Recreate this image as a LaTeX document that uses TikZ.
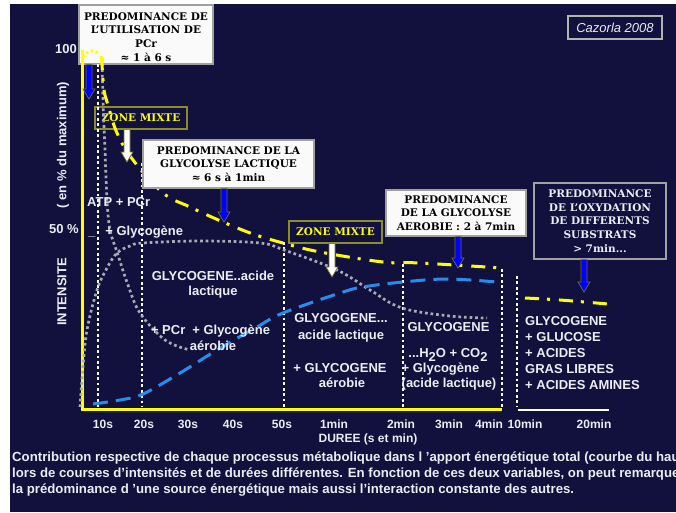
\documentclass[tikz,border=0pt]{standalone}
\usepackage{fontspec}
\setmainfont{Liberation Sans}
\newfontfamily\slab{DejaVu Serif}
\usetikzlibrary{calc}
\definecolor{navy}{RGB}{18,17,62}
\definecolor{yel}{RGB}{255,255,0}
\definecolor{boxgrey}{RGB}{160,160,160}
\definecolor{boxwhite}{RGB}{250,250,250}
\definecolor{olivebd}{RGB}{140,140,40}
\definecolor{arrblue}{RGB}{0,0,255}
\definecolor{dotgrey}{RGB}{170,170,180}
\definecolor{dashblue}{RGB}{40,140,235}
\definecolor{txtwhite}{RGB}{236,236,244}
\definecolor{arrline}{RGB}{110,110,40}
\newcommand{\blkarrow}[3][]{%
  \path[#1] let \p1=(#2), \p2=(#3) in
    (\x1-3pt,\y1) -- (\x1+3pt,\y1) -- (\x1+3pt,\y2+10pt) -- (\x1+6pt,\y2+10pt)
    -- (\x1,\y2) -- (\x1-6pt,\y2+10pt) -- (\x1-3pt,\y2+10pt) -- cycle;}
\begin{document}
\begin{tikzpicture}[x=1pt,y=-1pt,
  lbl/.style={text=txtwhite, font=\bfseries\fontsize{13}{15}\selectfont, inner sep=0pt, anchor=base},
  xlbl/.style={text=txtwhite, font=\bfseries\fontsize{12}{14}\selectfont, inner sep=0pt, anchor=base},
  caption/.style={text=txtwhite, font=\bfseries\fontsize{13.2}{15}\selectfont, inner sep=0pt, anchor=base west},
  wbox/.style={draw=boxgrey, line width=1.2pt, fill=boxwhite, text=black,
    font=\slab\bfseries\fontsize{10.5}{13.7}\selectfont, align=center, inner sep=0pt},
  boxtxt/.style={text=black, font=\slab\bfseries\fontsize{10.5}{13.8}\selectfont, align=center, inner sep=0pt},
  nbox/.style={draw=boxgrey, line width=1.2pt, fill=navy, text=txtwhite,
    font=\slab\bfseries\fontsize{10.5}{13.7}\selectfont, align=center, inner sep=0pt},
  zbox/.style={draw=olivebd, line width=1.2pt, fill=navy, text=yel,
    font=\slab\bfseries\fontsize{10.5}{13}\selectfont, inner sep=0pt},
  vgrid/.style={draw=white, line width=2.7pt, dash pattern=on 2.7pt off 2.7pt},
  gcurve/.style={draw=dotgrey, line width=2.7pt, dash pattern=on 2.7pt off 2.9pt},
  bcurve/.style={draw=dashblue, line width=3pt, dash pattern=on 15pt off 8pt},
  ycurve/.style={draw=yel, line width=3pt, dash pattern=on 14pt off 8pt on 3pt off 9pt},
  blue arrow/.style={fill=arrblue, draw=arrline, line width=0.7pt},
  white arrow/.style={fill=white, draw=arrline, line width=0.7pt}
]
\useasboundingbox (0,0) rectangle (676,512);
\clip (0,0) rectangle (676,512);
\fill[white] (0,0) rectangle (676,512);
\fill[navy] (10,4) rectangle (676,512);

% ZONE MIXTE boxes (below the lines)
\node[zbox, minimum width=92pt, minimum height=22pt] (zm1) at (141,118) {ZONE MIXTE};
\node[zbox, minimum width=93pt, minimum height=22pt] (zm2) at (335.5,232) {ZONE MIXTE};

% first box (below the curves)
\node[wbox, minimum width=134pt, minimum height=59pt] (b1) at (146,34.5) {};
\node[boxtxt] (b1t) at (146,37) {PREDOMINANCE DE\\L’UTILISATION DE\\PCr\\≈ 1 à 6 s};

% axes
\draw[yel, line width=3pt] (82,50) -- (82,409) -- (502,409);
\draw[white, line width=2.7pt] (518,410) -- (609,410);

% vertical dotted grid lines
\draw[vgrid] (98,64) -- (98,407);
\draw[vgrid] (142,163) -- (142,407);
\draw[vgrid] (284,242) -- (284,407);
\draw[vgrid] (403,264) -- (403,407);
\draw[vgrid] (502,269) -- (502,407);
\draw[vgrid] (517,276) -- (517,407);

% grey dotted curves
\draw[gcurve] plot[smooth, tension=0.6] coordinates {(102,58) (103,100) (105,150) (107,200) (110,230) (117,252) (128,285) (140,313) (165,340) (190,350)};
\draw[gcurve] plot[smooth, tension=0.6] coordinates {(80,407) (83,367) (87,330) (97,290) (107,268) (117,253) (130,246) (143,243) (200,241) (260,243) (284,250) (337,270) (370,290) (402,308) (450,316) (487,318)};

% blue dashed curve
\draw[bcurve] plot[smooth, tension=0.6] coordinates {(93,404) (120,400) (143,394) (180,373) (217,350) (257,327) (283,313) (340,293) (363,287) (403,282) (447,279) (497,282)};

% yellow total curve
\draw[yel, line width=2.7pt, dash pattern=on 2.5pt off 2.5pt] plot[smooth, tension=0.7] coordinates {(83,57) (88,52) (94,51) (100,54)};
\draw[ycurve] plot[smooth, tension=0.6] coordinates {(101,56) (102,65) (104,90) (108,105) (117,133) (133,160) (163,193) (190,207) (223,222) (253,234) (283,243) (320,252) (383,262) (420,263) (502,268)};
\draw[ycurve] plot[smooth, tension=0.6] coordinates {(525,298) (560,300) (608,304)};

% upper boxes
\node[wbox, minimum width=171pt, minimum height=48pt] (b3) at (228.5,164)
  {PREDOMINANCE DE LA\\GLYCOLYSE LACTIQUE\\≈ 6 s à 1min};
\node[wbox, minimum width=140pt, minimum height=46pt] (b6) at (456,213)
  {PREDOMINANCE\\DE LA GLYCOLYSE\\AEROBIE : 2 à 7min};
\node[nbox, minimum width=132pt, minimum height=76pt] (b7) at (600,221)
  {PREDOMINANCE\\DE L’OXYDATION\\DE DIFFERENTS\\SUBSTRATS\\> 7min...};
\node[draw=boxgrey!80!white, line width=1.2pt, fill=navy, text=txtwhite, font=\itshape\fontsize{13}{15}\selectfont,
  minimum width=94pt, minimum height=23pt, inner sep=0pt] (caz) at (615,27.5) {Cazorla 2008};

% arrows
\coordinate (a1e) at (89,99);
\coordinate (a2e) at (224,222);
\coordinate (a3e) at (458,268);
\coordinate (a4e) at (584,292);
\coordinate (w1e) at (127,162);
\coordinate (w2e) at (332,277);
\blkarrow[blue arrow]{a1e |- b1.south}{a1e}
\blkarrow[blue arrow]{a2e |- b3.south}{a2e}
\blkarrow[blue arrow]{a3e |- b6.south}{a3e}
\blkarrow[blue arrow]{a4e |- b7.south}{a4e}
\blkarrow[white arrow]{w1e |- zm1.south}{w1e}
\blkarrow[white arrow]{w2e |- zm2.south}{w2e}

% axis labels
\node[lbl, anchor=base east] (l100) at (77,53.5) {100};
\node[lbl, anchor=base east] (l50) at (79,233.5) {50 \%};
\node[lbl, anchor=base west] (lgly) at (88,235.5) {\_\hspace{10pt}+ Glycogène};
\node[lbl, anchor=base west] (latp) at (87,206.5) {ATP + PCr};
\node[lbl, anchor=center, rotate=90] (yl1) at (62,292) {INTENSITE};
\node[lbl, anchor=center, rotate=90] (yl2) at (63,145) {( en \% du maximum)};

% inner labels
\node[lbl] (t1) at (213,280.5) {GLYCOGENE..acide};
\node[lbl] (t2) at (213,295.5) {lactique};
\node[lbl] (t3) at (210.5,334.5) {+ PCr\hspace{7pt}+ Glycogène};
\node[lbl] (t4) at (213,350.5) {aérobie};
\node[lbl] (t5) at (341,322.5) {GLYGOGENE...};
\node[lbl] (t6) at (341,339.5) {acide lactique};
\node[lbl] (t7) at (340,372.5) {+ GLYCOGENE};
\node[lbl] (t8) at (342,387.5) {aérobie};
\node[lbl] (t9) at (448.5,331.5) {GLYCOGENE};
\node[lbl] (t10) at (448,357.5) {...H\raisebox{-4pt}{2}O + CO\raisebox{-4pt}{2}};
\node[lbl] (t11) at (440.5,372.5) {+ Glycogène};
\node[lbl] (t12) at (449,387.5) {(acide lactique)};
\node[lbl, anchor=base west] (r1) at (525,325.5) {GLYCOGENE};
\node[lbl, anchor=base west] (r2) at (525,341.5) {+ GLUCOSE};
\node[lbl, anchor=base west] (r3) at (525,357.5) {+ ACIDES};
\node[lbl, anchor=base west] (r4) at (525,373.5) {GRAS LIBRES};
\node[lbl, anchor=base west] (r5) at (525,389.5) {+ ACIDES AMINES};

% x labels
\node[xlbl] (x1) at (103,428.5) {10s};
\node[xlbl] (x2) at (144,428.5) {20s};
\node[xlbl] (x3) at (188,428.5) {30s};
\node[xlbl] (x4) at (233,428.5) {40s};
\node[xlbl] (x5) at (282,428.5) {50s};
\node[xlbl] (x6) at (334,428.5) {1min};
\node[xlbl] (x7) at (401,428.5) {2min};
\node[xlbl] (x8) at (449,428.5) {3min};
\node[xlbl] (x9) at (489,428.5) {4min};
\node[xlbl] (x10) at (525,428.5) {10min};
\node[xlbl] (x11) at (594,428.5) {20min};
\node[xlbl] (dur) at (368,442.5) {DUREE (s et min)};

% caption
\node[caption] (c1) at (12,461.5) {Contribution respective de chaque processus métabolique dans l 'apport énergétique total (courbe du haut)};
\node[caption] (c2) at (12,477.5) {lors de courses d’intensités et de durées différentes. En fonction de ces deux variables, on peut remarquer};
\node[caption] (c3) at (12,493.5) {la prédominance d ’une source énergétique mais aussi l’interaction constante des autres.};
\end{tikzpicture}
\end{document}
